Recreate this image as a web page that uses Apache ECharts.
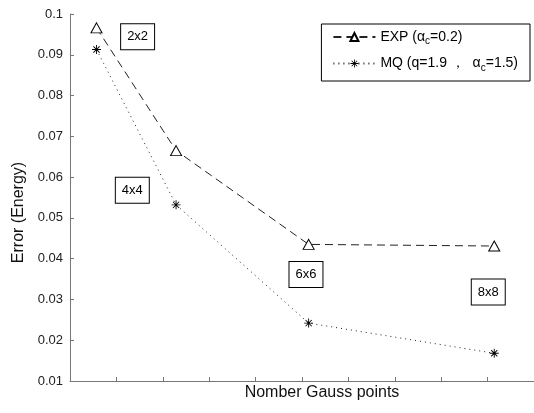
<!DOCTYPE html>
<html><head><meta charset="utf-8">
<script src="https://cdn.jsdelivr.net/npm/echarts@6/dist/echarts.min.js"></script>
<style>html,body{margin:0;padding:0;background:#fff}#c{width:534px;height:413px}</style>
</head><body><div id="c"></div>
<script>
var gaussPoints = [4, 16, 36, 64];
var expErr = [0.0966, 0.0665, 0.0435, 0.0431];
var mqErr = [0.0913, 0.0532, 0.0242, 0.0168];
var boxLabels = ['2x2', '4x4', '6x6', '8x8'];
var boxPos = [[10.2, 0.0944], [9.4, 0.0568], [35.6, 0.0361], [63.1, 0.0318]];

var star = 'path://M4.5,0H5.5V10H4.5Z M0,4.5H10V5.5H0Z M1.2,1.9L1.9,1.2L8.8,8.1L8.1,8.8Z M8.1,1.2L8.8,1.9L1.9,8.8L1.2,8.1Z';
var font = 'Liberation Sans, Arial, sans-serif';

var chart = echarts.init(document.getElementById('c'));
chart.setOption({
  animation: false,
  backgroundColor: '#fff',
  textStyle: {fontFamily: font},
  grid: {left: 70, top: 14, right: -1, bottom: 32},
  legend: {
    orient: 'vertical', right: 4, top: 24,
    borderColor: '#000', borderWidth: 1,
    padding: [6, 12, 8, 11],
    itemGap: 10, itemWidth: 42, itemHeight: 10,
    backgroundColor: '#fff',
    textStyle: {fontFamily: font, fontSize: 14, color: '#000',
      rich: {
        t: {fontSize: 14, color: '#000', fontFamily: font},
        s: {fontSize: 10, color: '#000', fontFamily: font, padding: [9, 0, 0, 0]}
      }},
    formatter: function (n) {
      if (n === 'EXP') return '{t|EXP (α}{s|c}{t|=0.2)}';
      return '{t|MQ (q=1.9 ，  α}{s|c}{t|=1.5)}';
    },
    data: ['EXP', 'MQ']
  },
  xAxis: {
    type: 'value', min: 0, max: 70, interval: 7,
    name: 'Nomber Gauss points', nameLocation: 'middle', nameGap: 4,
    nameTextStyle: {fontSize: 16, color: '#111', padding: [0, 0, 0, 40]},
    axisLine: {lineStyle: {color: '#777'}},
    axisTick: {inside: true, length: 4, lineStyle: {color: '#777'}},
    axisLabel: {show: false},
    splitLine: {show: false}
  },
  yAxis: {
    type: 'value', min: 0.01, max: 0.1, interval: 0.01,
    name: 'Error (Energy)', nameLocation: 'middle', nameGap: 40,
    nameTextStyle: {fontSize: 16, color: '#111', padding: [0, 30, 0, 0]},
    axisLine: {show: true, lineStyle: {color: '#777'}},
    axisTick: {show: true, inside: true, length: 4, lineStyle: {color: '#777'}},
    axisLabel: {fontSize: 13, color: '#222', margin: 7,
      formatter: function (v) { return String(+v.toFixed(2)); }},
    splitLine: {show: false}
  },
  series: [
    {
      name: 'EXP', type: 'line',
      data: gaussPoints.map(function (x, i) { return [x, expErr[i]]; }),
      symbol: 'triangle', symbolSize: [11, 10],
      lineStyle: {color: '#222', width: 1, type: [8, 5]},
      itemStyle: {color: '#fff', borderColor: '#000', borderWidth: 1},
      markPoint: {
        symbol: 'rect', symbolSize: 0,
        label: {show: true, position: 'inside', color: '#000', fontSize: 13, fontFamily: font,
          backgroundColor: '#fff', borderColor: '#000', borderWidth: 1, padding: [7, 6, 5, 6],
          formatter: function (p) { return p.name; }},
        data: boxLabels.map(function (l, i) { return {name: l, coord: boxPos[i]}; })
      }
    },
    {
      name: 'MQ', type: 'line',
      data: gaussPoints.map(function (x, i) { return [x, mqErr[i]]; }),
      symbol: star, symbolSize: 9,
      lineStyle: {color: '#222', width: 1, type: [1, 4]},
      itemStyle: {color: '#000'}
    }
  ]
});
</script>
</body></html>
